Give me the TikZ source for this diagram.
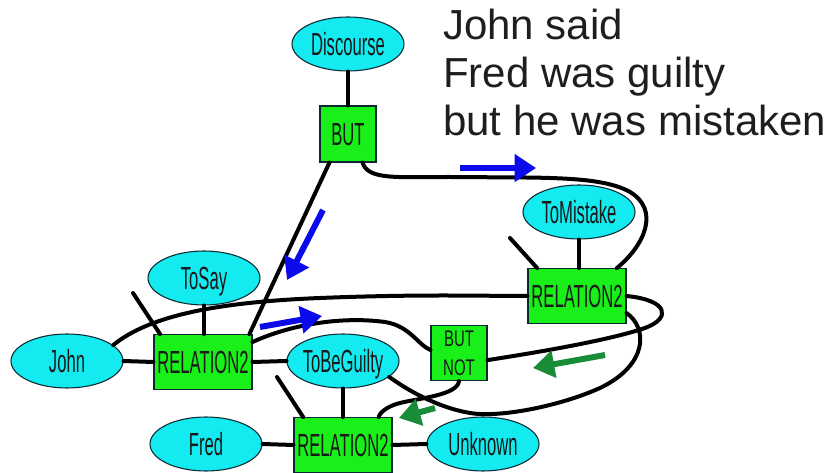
\documentclass[tikz,border=0pt]{standalone}
\usepackage{fontspec}
\setmainfont{Liberation Sans}
\newfontfamily\nodefont[FakeStretch=0.52]{Liberation Sans}
\newfontfamily\nodefontwide[FakeStretch=0.66]{Liberation Sans}
\usetikzlibrary{shapes.geometric,arrows.meta}

\definecolor{ovalfill}{RGB}{20,235,240}
\definecolor{boxfill}{RGB}{25,240,25}
\definecolor{edgeink}{RGB}{10,40,50}
\definecolor{flowblue}{RGB}{10,10,235}
\definecolor{flowgreen}{RGB}{25,140,55}
\definecolor{titleink}{RGB}{30,30,30}

% label of fixed-size node: zero width so the shape keeps its set size
\newcommand{\nlabel}[1]{\makebox[0pt]{#1}}

\begin{document}
\begin{tikzpicture}[x=0.75pt,y=-0.75pt,
  concept/.style={ellipse, draw=edgeink, line width=0.8pt, fill=ovalfill,
    minimum width=84pt, minimum height=40.5pt, inner sep=0pt,
    text=black!90, font=\nodefont\fontsize{24pt}{28pt}\selectfont,
    text height=17pt, text depth=0pt},
  boxbase/.style={rectangle, draw=edgeink, line width=0.8pt, fill=boxfill,
    inner sep=0pt, text=black!90},
  relbox/.style={boxbase, minimum width=73.5pt, minimum height=41pt,
    font=\nodefont\fontsize{24pt}{28pt}\selectfont,
    text height=17pt, text depth=0pt},
  sqbox/.style={relbox, minimum width=42pt, minimum height=42pt},
  link/.style={line width=3pt, black, line cap=round},
  flow/.style={line width=4.5pt, -{Triangle[length=16pt,width=20pt]}},
]
\useasboundingbox (0,0) rectangle (832,473);

% sentence
\node[anchor=north west, inner sep=0pt, align=left, text=titleink,
      font=\fontsize{31.5pt}{36pt}\selectfont] (caption) at (443,9)
  {John said\\Fred was guilty\\but he was mistaken};

% concepts and relations
\node[concept] (disc)    at (348,44)  {\nlabel{Discourse}};
\node[sqbox]   (but)     at (348,134) {\nlabel{BUT}};
\node[concept] (tomist)  at (579,212) {\nlabel{ToMistake}};
\node[relbox]  (relR)    at (577,296) {\nlabel{RELATION2}};
\node[boxbase, minimum width=42pt, minimum height=41pt, align=center,
      font=\nodefontwide\fontsize{17pt}{21.5pt}\selectfont]
               (butnot)  at (459,353) {BUT\\NOT};
\node[concept] (tosay)   at (204,278) {\nlabel{ToSay}};
\node[concept] (john)    at (67,361)  {\nlabel{John}};
\node[relbox]  (relL)    at (203,362) {\nlabel{RELATION2}};
\node[concept] (tobg)    at (343,361) {\nlabel{ToBeGuilty}};
\node[concept] (fred)    at (206,444) {\nlabel{Fred}};
\node[relbox]  (relB)    at (343,445) {\nlabel{RELATION2}};
\node[concept] (unknown) at (483,444) {\nlabel{Unknown}};

% free ends of the open links
\coordinate (stubR) at (510,238);
\coordinate (stubL) at (133,293);
\coordinate (stubB) at (277,377);

% straight links
\draw[link] (disc.south) -- (but.north);
\draw[link] (but.-123) -- (relL.31);
\draw[link] (tomist.south) -- (tomist.south |- relR.north);
\draw[link] (relR.145) -- (stubR);
\draw[link] (tosay.south) -- (tosay.south |- relL.north);
\draw[link] (relL.147) -- (stubL);
\draw[link] (john.east) -- (relL.west);
\draw[link] (relL.east) -- (tobg.west);
\draw[link] (tobg.south) -- (tobg.south |- relB.north);
\draw[link] (relB.145) -- (stubB);
\draw[link] (fred.east) -- (relB.west);
\draw[link] (relB.east) -- (unknown.west);

% curved links
\draw[link] (but.-63) .. controls (368,180) and (395,177) .. (450,177)
  .. controls (540,178) and (600,175) .. (630,192)
  .. controls (660,210) and (645,245) .. (relR.35);
\draw[link] (john.19) .. controls (150,315) and (220,302) .. (320,298)
  .. controls (420,294) and (480,296) .. (relR.west);
\draw[link] (relL.22) .. controls (290,325) and (340,316) .. (385,322)
  .. controls (410,326) and (418,345) .. (butnot.174);
\draw[link] (butnot.-14) .. controls (540,352) and (610,340) .. (645,328)
  .. controls (672,318) and (668,300) .. (relR.east);
\draw[link] (relR.-19) .. controls (648,328) and (648,365) .. (600,388)
  .. controls (560,406) and (500,418) .. (470,413)
  .. controls (440,408) and (410,392) .. (tobg.-19);
\draw[link] (butnot.south) .. controls (458,395) and (420,398) .. (400,403)
  .. controls (388,406) and (380,412) .. (relB.38);

% direction markers
\coordinate (b1s) at (323,210); \coordinate (b1e) at (287,280);
\coordinate (b2s) at (460,168); \coordinate (b2e) at (536,168);
\coordinate (b3s) at (260,327); \coordinate (b3e) at (322,316);
\coordinate (g1s) at (605,355); \coordinate (g1e) at (533,368);
\coordinate (g2s) at (435,408); \coordinate (g2e) at (399,418);
\draw[flow, flowblue] (b1s) -- (b1e);
\draw[flow, flowblue] (b2s) -- (b2e);
\draw[flow, flowblue] (b3s) -- (b3e);
\draw[flow, flowgreen] (g1s) -- (g1e);
\draw[flow, flowgreen] (g2s) -- (g2e);
\end{tikzpicture}
\end{document}
